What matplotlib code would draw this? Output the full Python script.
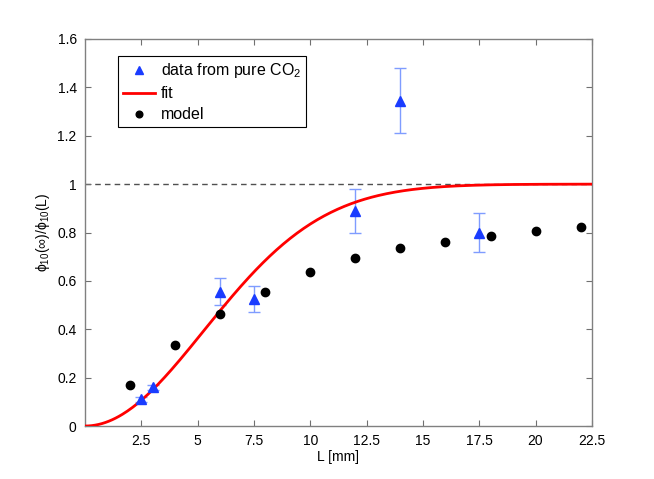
import numpy as np
import matplotlib
matplotlib.use("Agg")
import matplotlib.pyplot as plt

plt.rcParams['font.family'] = ['Liberation Sans', 'DejaVu Sans']
plt.rcParams['mathtext.fontset'] = 'custom'
plt.rcParams['mathtext.rm'] = 'Liberation Sans'
plt.rcParams['mathtext.it'] = 'Liberation Sans'

# measured data
data_L = [2.5, 3.0, 6.0, 7.5, 12.0, 14.0, 17.5]
data_phi = [0.11, 0.16, 0.555, 0.525, 0.89, 1.345, 0.80]
data_err = [0.01, 0.01, 0.055, 0.054, 0.09, 0.135, 0.08]

# model points
model_L = [2, 4, 6, 8, 10, 12, 14, 16, 18, 20, 22]
model_phi = [0.17, 0.335, 0.465, 0.555, 0.635, 0.695, 0.738, 0.762, 0.787, 0.807, 0.822]

# fit: 1 - exp(-(L/a)^2)
fit_a = 7.45
fit_L = np.linspace(0, 22.5, 300)
fit_phi = 1 - np.exp(-(fit_L / fit_a) ** 2)

xticks = [2.5, 5, 7.5, 10, 12.5, 15, 17.5, 20, 22.5]
xticklabels = ['2.5', '5', '7.5', '10', '12.5', '15', '17.5', '20', '22.5']
yticks = [0, 0.2, 0.4, 0.6, 0.8, 1.0, 1.2, 1.4, 1.6]
yticklabels = ['0', '0.2', '0.4', '0.6', '0.8', '1', '1.2', '1.4', '1.6']

fig = plt.figure(figsize=(6.54, 4.79), dpi=100)
ax = fig.add_axes([0.13, 0.1106, 0.775, 0.808])

ax.axhline(1.0, color='#505050', linestyle=(0, (4, 3)), linewidth=1.0, zorder=1)
ax.errorbar(data_L, data_phi, yerr=data_err, fmt='none', ecolor='#7f9cff',
            elinewidth=1.0, capsize=4, capthick=1.0, zorder=2)
ax.plot(fit_L, fit_phi, color='#ff0000', linewidth=2.0, zorder=3, label='fit')
ax.plot(data_L, data_phi, linestyle='none', marker='^', markersize=7.5,
        color='#1a3cff', markeredgecolor='#1a3cff', zorder=4,
        label='data from pure CO$_2$')
ax.plot(model_L, model_phi, linestyle='none', marker='o', markersize=6,
        color='black', zorder=4, label='model')

ax.set_xlim(0, 22.5)
ax.set_ylim(0, 1.6)
ax.set_xticks(xticks)
ax.set_xticklabels(xticklabels)
ax.set_yticks(yticks)
ax.set_yticklabels(yticklabels)
ax.tick_params(direction='in', length=4, width=0.8, color='#707070',
               labelsize=10, labelcolor='black', top=True, right=True, pad=6)
for s in ax.spines.values():
    s.set_color('#808080')
    s.set_linewidth(1.0)

ax.set_xlabel('L [mm]', fontsize=10, labelpad=1)
ax.set_ylabel(r'$\mathregular{\phi_{10}(\infty)/\phi_{10}(L)}$', fontsize=10, labelpad=4)

handles, labels = ax.get_legend_handles_labels()
order = [1, 0, 2]
leg = ax.legend([handles[i] for i in order], [labels[i] for i in order],
                loc='upper left', bbox_to_anchor=(0.065, 0.955), fontsize=11.5,
                frameon=True, fancybox=False, edgecolor='black', framealpha=1,
                handlelength=2.0, handletextpad=0.4, borderpad=0.3,
                labelspacing=0.38, borderaxespad=0, markerscale=0.8)
leg.get_frame().set_linewidth(0.8)

fig.savefig('out.png', dpi=100)
